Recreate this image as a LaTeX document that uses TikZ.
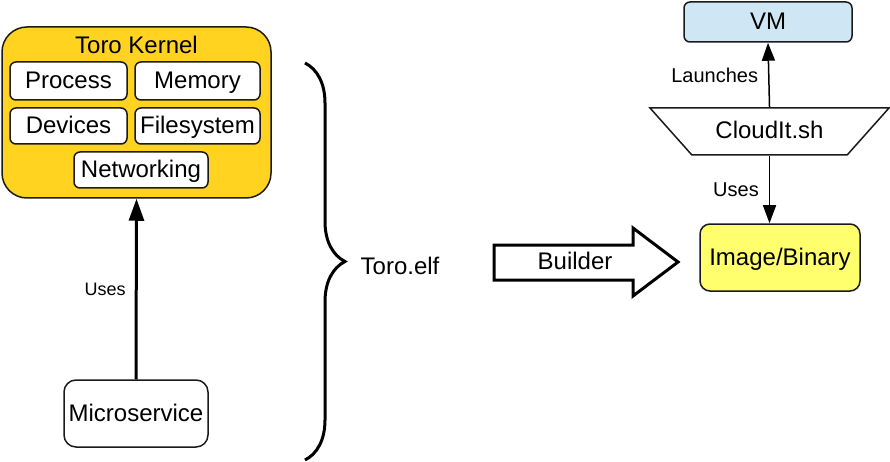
\documentclass[tikz,border=0pt]{standalone}
\usepackage{fontspec}
\setmainfont{Liberation Sans}
\usepackage{tikz}
\usetikzlibrary{shapes.geometric, arrows.meta, decorations.pathreplacing, positioning}
\usepackage{xcolor}
\definecolor{kernelgold}{HTML}{FFD320}
\definecolor{vmblue}{HTML}{CFE7F5}
\definecolor{imgyellow}{HTML}{FFFF6D}
\definecolor{bordo}{HTML}{1A1A1A}

\begin{document}
\begin{tikzpicture}[x = 1pt, y = -1pt,
    testo/.style = {font = \fontsize{24}{28}\selectfont, text height = 19pt, text depth = 4pt},
    etichetta/.style = {font = \fontsize{20}{24}\selectfont, inner sep = 3pt},
    modulo/.style = {testo, draw = bordo, line width = 1.5pt, rounded corners = 6pt, fill = white, inner sep = 0pt},
    freccia/.style = {line width = 1.5pt, -{Triangle[length = 18pt, width = 13pt]}}]
    % Cornice
    \useasboundingbox (0,0) rectangle (890,462);
    % Kernel
    \node[draw = bordo, line width = 1.5pt, fill = kernelgold, rounded corners = 25pt, minimum width = 269pt, minimum height = 171pt] (kernel) at (136.5,112.5) {};
    \node[testo] (titolo) at (136.5,46) {Toro Kernel};
    \node[modulo, minimum width = 117pt, minimum height = 38pt] (process) at (68.5,81) {Process};
    \node[modulo, minimum width = 125pt, minimum height = 38pt] (memory) at (197.5,81) {Memory};
    \node[modulo, minimum width = 117pt, minimum height = 36pt] (devices) at (68.5,126) {Devices};
    \node[modulo, minimum width = 125pt, minimum height = 36pt] (filesystem) at (197.5,126) {Filesystem};
    \node[modulo, minimum width = 134pt, minimum height = 36pt] (networking) at (141,170) {Networking};
    % Microservice
    \node[modulo, rounded corners = 12pt, minimum width = 144pt, minimum height = 67pt] (micro) at (136,413.5) {Microservice};
    \draw[line width = 3pt, -{Triangle[length = 22pt, width = 15pt]}] (micro.north) -- (kernel.south) node[etichetta, font = \fontsize{18}{22}\selectfont, midway, left = 6pt] {Uses};
    % Toro.elf
    \draw[line width = 3pt, decorate, decoration = {brace, amplitude = 40pt}] (305,63) -- (305,460);
    \node[testo] (elf) at (400,267) {Toro.elf};
    % Builder
    \draw[line width = 3pt] (494,245) -- (633,245) -- (633,228) -- (678,262) -- (633,296) -- (633,280) -- (494,280) -- cycle;
    \node[testo] (builder) at (575,262) {Builder};
    % Lato destro
    \node[modulo, fill = vmblue, minimum width = 168pt, minimum height = 40pt] (vm) at (768,22) {VM};
    \node[testo, trapezium, draw = bordo, line width = 1.5pt, fill = white, trapezium angle = 38.3, shape border rotate = 180, trapezium stretches = true, minimum width = 239pt, minimum height = 47pt, inner sep = 0pt] (cloud) at (769.5,131.5) {CloudIt.sh};
    \node[modulo, fill = imgyellow, rounded corners = 10pt, minimum width = 160pt, minimum height = 67pt] (image) at (780,257.5) {Image/Binary};
    \draw[freccia] (cloud.north) -- (vm.south) node[etichetta, midway, left = 7pt] {Launches};
    \draw[freccia] (cloud.south) -- (cloud.south |- image.north) node[etichetta, midway, left = 7pt] {Uses};
\end{tikzpicture}
\end{document}
